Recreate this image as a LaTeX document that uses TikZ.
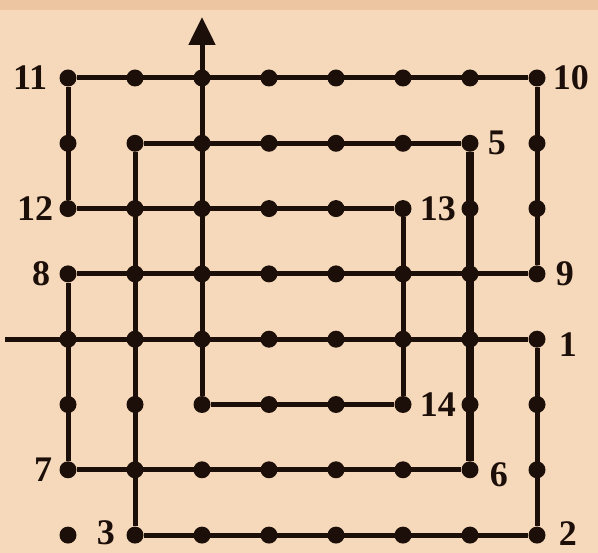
\documentclass[tikz,border=0pt]{standalone}
\usepackage{fontspec}
\setmainfont{Liberation Serif}
\usetikzlibrary{positioning,arrows.meta}
\definecolor{paper}{RGB}{245,217,186}
\definecolor{paperband}{RGB}{237,197,160}
\definecolor{ink}{RGB}{28,14,8}
\tikzset{
  dot/.style={circle,fill=ink,inner sep=0pt,minimum size=17pt},
  wire/.style={draw=ink,line width=5pt},
  num/.style={font=\bfseries\fontsize{36}{36}\selectfont,text=ink,inner sep=0pt}
}

\begin{document}
\begin{tikzpicture}[x=1pt,y=-1pt]
  % paper
  \fill[paper] (0,0) rectangle (598,553);
  \fill[paperband] (0,0) rectangle (598,10);
  \useasboundingbox (0,0) rectangle (598,553);

  % the grid of dots
  \foreach \c in {0,...,7}
    \foreach \r in {0,...,7}
      \node[dot] (p\c\r) at ({68+67*\c},{78+65.3*\r}) {};
  \coordinate (edge) at (5,{78+65.3*4});
  \coordinate (top) at ({68+67*2},17);

  % rows
  \draw[wire] (p00) -- (p70);
  \draw[wire] (p11) -- (p61);
  \draw[wire] (p02) -- (p52);
  \draw[wire] (p03) -- (p73);
  \draw[wire] (edge) -- (p74);
  \draw[wire] (p25) -- (p55);
  \draw[wire] (p06) -- (p66);
  \draw[wire] (p17) -- (p77);

  % columns
  \draw[wire] (p00) -- (p02);
  \draw[wire] (p03) -- (p06);
  \draw[wire] (p11) -- (p17);
  \draw[wire,-{Triangle[length=28pt,width=26pt]}] (p25) -- (top);
  \draw[wire] (p52) -- (p55);
  \draw[wire,line width=8pt] (p61) -- (p66);
  \draw[wire] (p70) -- (p73);
  \draw[wire] (p74) -- (p77);

  % numbers
  \node[num,left=12pt of p00] (l11) {11};
  \node[num,left=6pt of p02] (l12) {12};
  \node[num,left=9pt of p03] (l8) {8};
  \node[num,left=7pt of p06] (l7) {7};
  \node[num,right=20pt of p07,yshift=2pt] (l3) {3};
  \node[num,right=7pt of p70] (l10) {10};
  \node[num,right=9pt of p61] (l5) {5};
  \node[num,right=8pt of p52] (l13) {13};
  \node[num,right=10pt of p73] (l9) {9};
  \node[num,right=13pt of p74,yshift=-5pt] (l1) {1};
  \node[num,right=8pt of p55] (l14) {14};
  \node[num,right=11pt of p66,yshift=-5pt] (l6) {6};
  \node[num,right=13pt of p77,yshift=2pt] (l2) {2};
\end{tikzpicture}
\end{document}
